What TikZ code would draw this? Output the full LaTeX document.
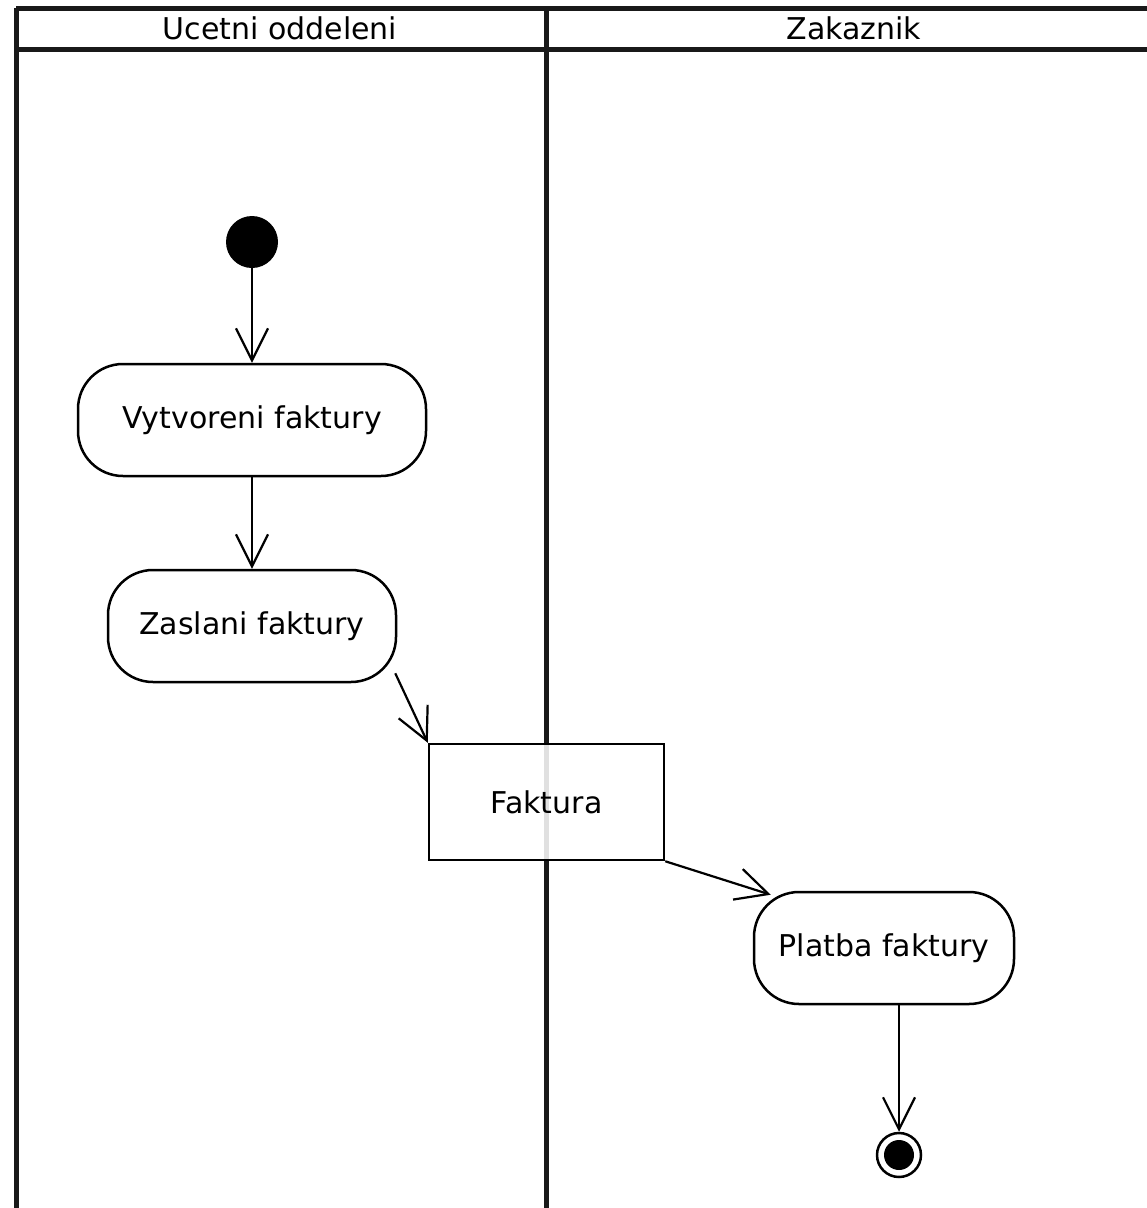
\documentclass[tikz,border=0pt]{standalone}
\usepackage{fontspec}
\setmainfont{DejaVu Sans}
\usetikzlibrary{arrows.meta}
\begin{document}
\begin{tikzpicture}[x=1pt,y=-1pt,
  lane/.style={line width=5pt, black!90},
  action/.style={draw, line width=2.5pt, rounded corners=45pt, fill=white,
    minimum height=112pt, inner sep=0pt, font=\fontsize{30}{36}\selectfont},
  objbox/.style={draw, line width=2.5pt, fill=white, minimum width=235pt,
    minimum height=116pt, inner sep=0pt, font=\fontsize{30}{36}\selectfont},
  flow/.style={line width=2.2pt, -{Straight Barb[length=32pt, width=32pt, line width=2.2pt]}},
  lanetitle/.style={font=\fontsize{30}{36}\selectfont, inner sep=0pt}]
\useasboundingbox (0,0) rectangle (1147,1208);
\fill[white] (0,0) rectangle (1147,1208);

% swimlanes
\coordinate (tl) at (16,8);
\coordinate (hl) at (16,49);
\coordinate (bl) at (16,1208);
\coordinate (dt) at (546,8);
\coordinate (db) at (546,1208);
\draw[lane] (tl) -- (1147,8);
\draw[lane] (hl) -- (1147,49);
\draw[lane] (tl) -- (bl);
\draw[lane] (dt) -- (db);
\node[lanetitle] (lane1) at (280,28) {Ucetni oddeleni};
\node[lanetitle] (lane2) at (854,28) {Zakaznik};

% activity nodes
\node[circle, fill=black, minimum size=52pt, inner sep=0pt] (start) at (252,242) {};
\node[action, minimum width=348pt] (vyt) at (252,420) {Vytvoreni faktury};
\node[action, minimum width=288pt] (zas) at (252,626) {Zaslani faktury};
\node[objbox, path picture={\draw[black!12, line width=5pt]
    (path picture bounding box.north) -- (path picture bounding box.south);}]
  (fak) at (546.5,802) {Faktura};
\node[action, minimum width=260pt] (pla) at (884,948) {Platba faktury};
\node[circle, draw, line width=2.5pt, minimum size=44pt, inner sep=0pt] (end) at (899,1155) {};
\fill (end.center) circle (15pt);

% control and object flows
\draw[flow] (start) -- (vyt);
\draw[flow] (vyt) -- (zas);
\draw[flow] ([xshift=-2pt,yshift=10pt]zas.south east) -- (fak.north west);
\draw[flow] (fak.south east) -- ([xshift=18pt,yshift=-4pt]pla.north west);
\draw[flow] (pla.south -| end) -- (end);
\end{tikzpicture}
\end{document}
